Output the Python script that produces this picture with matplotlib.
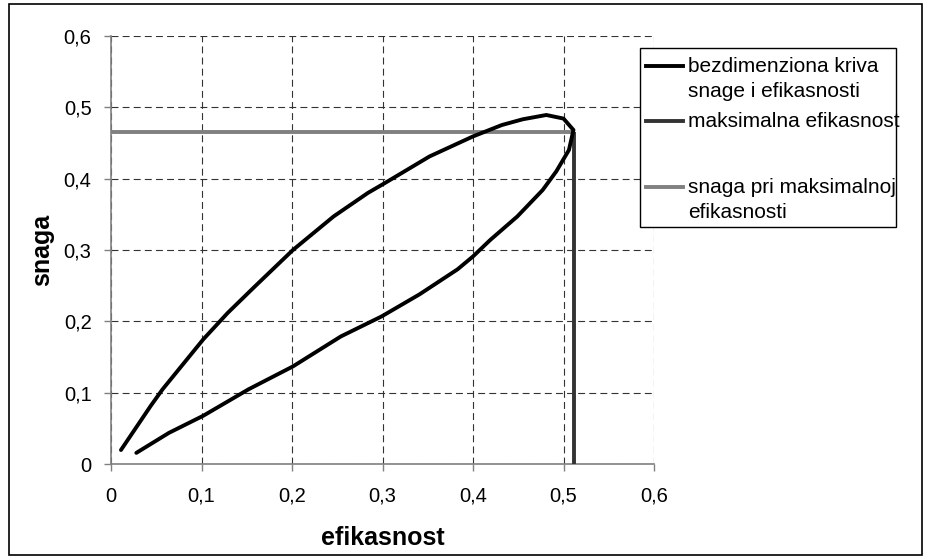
import matplotlib
matplotlib.use("Agg")
import matplotlib.pyplot as plt
import matplotlib.ticker as mticker
from matplotlib.lines import Line2D
from matplotlib.patches import Rectangle

plt.rcParams["font.family"] = ["Liberation Sans", "DejaVu Sans"]
plt.rcParams["lines.scale_dashes"] = False

# bezdimenziona kriva snage i efikasnosti (loop: upper branch, tip, lower branch)
efikasnost = [0.011, 0.044, 0.057, 0.102, 0.129, 0.159, 0.201, 0.246, 0.284,
              0.303, 0.352, 0.400, 0.432, 0.455, 0.481, 0.500, 0.511,
              0.506, 0.492, 0.477, 0.449, 0.419, 0.400, 0.383, 0.341,
              0.299, 0.254, 0.201, 0.152, 0.102, 0.064, 0.028]
snaga = [0.020, 0.082, 0.105, 0.175, 0.212, 0.249, 0.300, 0.347, 0.380,
         0.394, 0.431, 0.459, 0.475, 0.483, 0.489, 0.484, 0.468,
         0.440, 0.410, 0.384, 0.347, 0.314, 0.291, 0.273, 0.238,
         0.207, 0.179, 0.137, 0.105, 0.068, 0.044, 0.016]

# maksimalna efikasnost i snaga pri njoj
eta_max = 0.512
p_at_max = 0.4645

ticks = [0, 0.1, 0.2, 0.3, 0.4, 0.5, 0.6]
legend_labels = [["bezdimenziona kriva", "snage i efikasnosti"],
                 ["maksimalna efikasnost"],
                 ["snaga pri maksimalnoj", "efikasnosti"]]

C = {"curve": "#000000", "max": "#333333", "pmax": "#808080",
     "grid": "#333333", "axis": "#808080", "text": "#000000"}

W, H = 943, 559
fig = plt.figure(figsize=(W / 100, H / 100), dpi=100)
fig.patch.set_facecolor("white")
ax = fig.add_axes([111 / W, 1 - 464.3 / H, (654 - 111) / W, (464.3 - 35.7) / H])

ax.plot(efikasnost, snaga, color=C["curve"], lw=2.8, solid_capstyle="round",
        solid_joinstyle="round", zorder=4)
ax.plot([eta_max, eta_max], [0, p_at_max], color=C["max"], lw=2.8, zorder=3,
        solid_capstyle="butt")
ax.plot([0, eta_max], [p_at_max, p_at_max], color=C["pmax"], lw=2.8, zorder=3,
        solid_capstyle="butt")

ax.set_xlim(0, 0.6); ax.set_ylim(0, 0.6)
ax.set_xticks(ticks); ax.set_yticks(ticks)
fmt = mticker.FuncFormatter(lambda v, p: ("%g" % round(v, 1)).replace(".", ","))
ax.xaxis.set_major_formatter(fmt); ax.yaxis.set_major_formatter(fmt)
ax.tick_params(direction="out", length=5, width=1, color=C["axis"], labelsize=14.5)
ax.tick_params(axis="x", pad=11)
ax.tick_params(axis="y", pad=9)

ax.grid(True, color=C["grid"], lw=0.8, ls=(0, (5, 3)))
ax.set_axisbelow(True)
for sp in ["top", "right"]: ax.spines[sp].set_visible(False)
for sp in ["left", "bottom"]:
    ax.spines[sp].set_color(C["axis"]); ax.spines[sp].set_linewidth(1.2)

ax.set_xlabel("efikasnost", fontsize=18, fontweight="bold")
ax.set_ylabel("snaga", fontsize=18, fontweight="bold")
ax.xaxis.set_label_coords(0.5, (464.3 - 545) / 428.6)
ax.xaxis.label.set_va("baseline")
ax.yaxis.set_label_coords((41.7 - 111) / 543, 0.5)
ax.yaxis.label.set_va("center")

# Excel-style legend box, handle on the first line of each entry
lx0, ly0, lx1, ly1 = 640, 47.7, 896, 226.7
fig.add_artist(Rectangle((lx0 / W, 1 - ly1 / H), (lx1 - lx0) / W, (ly1 - ly0) / H,
                         transform=fig.transFigure, facecolor="white",
                         edgecolor="#000000", lw=1, zorder=5))
baselines = [[71.7, 96.7], [126.7], [193, 218]]
colors = [C["curve"], C["max"], C["pmax"]]
for labs, bls, col in zip(legend_labels, baselines, colors):
    yh = 1 - (bls[0] - 6) / H
    fig.add_artist(Line2D([646 / W, 683 / W], [yh, yh], transform=fig.transFigure,
                          color=col, lw=2.8, zorder=6))
    for lab, b in zip(labs, bls):
        fig.text(688 / W, 1 - b / H, lab, fontsize=15, va="baseline", ha="left",
                 color=C["text"], zorder=6)

# outer chart border
fig.add_artist(Rectangle((9 / W, 1 - 555 / H), (922 - 9) / W, (555 - 4) / H,
                         transform=fig.transFigure, fill=False,
                         edgecolor="#000000", lw=1.2, zorder=7))

fig.savefig("out.png", dpi=100, facecolor="white")
